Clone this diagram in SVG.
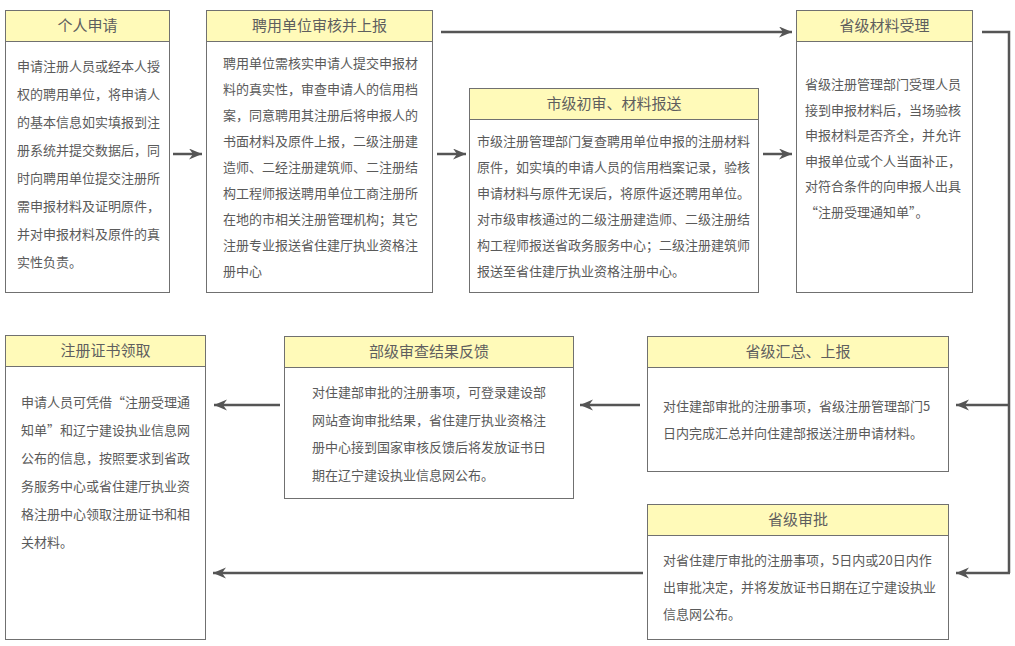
<svg xmlns="http://www.w3.org/2000/svg" width="1015" height="646" viewBox="0 0 1015 646">
<style>
.box{fill:#ffffff;stroke:#707070;stroke-width:1}
.hd{fill:#fffab9;stroke:#707070;stroke-width:1}
.ht{font-family:"Noto Sans CJK SC","Noto Sans CJK JP",sans-serif;font-size:15px;fill:#5e5e5e;text-anchor:middle}
.bt{font-family:"Noto Sans CJK SC","Noto Sans CJK JP",sans-serif;font-size:13px;fill:#5a5a5a}
.ln{fill:none;stroke:#555555;stroke-width:2.5}
</style>
<defs>
<marker id="ah" markerUnits="userSpaceOnUse" markerWidth="14" markerHeight="12" refX="13" refY="5.5" orient="auto">
<path d="M0,0 L13,5.5 L0,11 L4,5.5 z" fill="#555555"/>
</marker>
</defs>
<rect width="1015" height="646" fill="#ffffff"/>

<g id="connectors">
<line class="ln" x1="173" y1="154" x2="202" y2="154" marker-end="url(#ah)"/>
<line class="ln" x1="437" y1="154" x2="466" y2="154" marker-end="url(#ah)"/>
<line class="ln" x1="763" y1="154" x2="792" y2="154" marker-end="url(#ah)"/>
<line class="ln" x1="441" y1="32" x2="792" y2="32" marker-end="url(#ah)"/>
<polyline class="ln" points="982,32 1009,32 1009,573"/>
<line class="ln" x1="1010" y1="405" x2="956" y2="405" marker-end="url(#ah)"/>
<line class="ln" x1="1010" y1="573" x2="956" y2="573" marker-end="url(#ah)"/>
<line class="ln" x1="640" y1="405" x2="580" y2="405" marker-end="url(#ah)"/>
<line class="ln" x1="280" y1="405" x2="214" y2="405" marker-end="url(#ah)"/>
<line class="ln" x1="643" y1="573" x2="213" y2="573" marker-end="url(#ah)"/>
</g>

<g id="n1">
<rect class="box" x="5.5" y="10.5" width="164" height="282"/>
<rect class="hd" x="5.5" y="10.5" width="164" height="31"/>
<text class="ht" x="87.5" y="31">个人申请</text>
<text class="bt" x="17"><tspan x="17" y="71">申请注册人员或经本人授</tspan><tspan x="17" y="99">权的聘用单位，将申请人</tspan><tspan x="17" y="127">的基本信息如实填报到注</tspan><tspan x="17" y="155">册系统并提交数据后，同</tspan><tspan x="17" y="183">时向聘用单位提交注册所</tspan><tspan x="17" y="211">需申报材料及证明原件，</tspan><tspan x="17" y="239">并对申报材料及原件的真</tspan><tspan x="17" y="267">实性负责。</tspan></text>
</g>

<g id="n2">
<rect class="box" x="206.5" y="10.5" width="226" height="282"/>
<rect class="hd" x="206.5" y="10.5" width="226" height="31"/>
<text class="ht" x="319.5" y="31">聘用单位审核并上报</text>
<text class="bt"><tspan x="223" y="68">聘用单位需核实申请人提交申报材</tspan><tspan x="223" y="94">料的真实性，审查申请人的信用档</tspan><tspan x="223" y="120">案，同意聘用其注册后将申报人的</tspan><tspan x="223" y="146">书面材料及原件上报，二级注册建</tspan><tspan x="223" y="172">造师、二经注册建筑师、二注册结</tspan><tspan x="223" y="198">构工程师报送聘用单位工商注册所</tspan><tspan x="223" y="224">在地的市相关注册管理机构；其它</tspan><tspan x="223" y="250">注册专业报送省住建厅执业资格注</tspan><tspan x="223" y="276">册中心</tspan></text>
</g>

<g id="n3">
<rect class="box" x="469.5" y="88.5" width="289" height="204"/>
<rect class="hd" x="469.5" y="88.5" width="289" height="31"/>
<text class="ht" x="614" y="109">市级初审、材料报送</text>
<text class="bt"><tspan x="477" y="146">市级注册管理部门复查聘用单位申报的注册材料</tspan><tspan x="477" y="172">原件，如实填的申请人员的信用档案记录，验核</tspan><tspan x="477" y="198">申请材料与原件无误后，将原件返还聘用单位。</tspan><tspan x="477" y="224">对市级审核通过的二级注册建造师、二级注册结</tspan><tspan x="477" y="250">构工程师报送省政务服务中心；二级注册建筑师</tspan><tspan x="477" y="276">报送至省住建厅执业资格注册中心。</tspan></text>
</g>

<g id="n4">
<rect class="box" x="796.5" y="10.5" width="176" height="282"/>
<rect class="hd" x="796.5" y="10.5" width="176" height="31"/>
<text class="ht" x="884.5" y="31">省级材料受理</text>
<text class="bt"><tspan x="805" y="89">省级注册管理部门受理人员</tspan><tspan x="805" y="115">接到申报材料后，当场验核</tspan><tspan x="805" y="140">申报材料是否齐全，并允许</tspan><tspan x="805" y="166">申报单位或个人当面补正，</tspan><tspan x="805" y="191">对符合条件的向申报人出具</tspan><tspan x="805" y="217">“注册受理通知单”。</tspan></text>
</g>

<g id="n5">
<rect class="box" x="5.5" y="335.5" width="200" height="304"/>
<rect class="hd" x="5.5" y="335.5" width="200" height="31"/>
<text class="ht" x="105.5" y="356">注册证书领取</text>
<text class="bt"><tspan x="21" y="407">申请人员可凭借“注册受理通</tspan><tspan x="21" y="435">知单”和辽宁建设执业信息网</tspan><tspan x="21" y="463">公布的信息，按照要求到省政</tspan><tspan x="21" y="491">务服务中心或省住建厅执业资</tspan><tspan x="21" y="519">格注册中心领取注册证书和相</tspan><tspan x="21" y="547">关材料。</tspan></text>
</g>

<g id="n6">
<rect class="box" x="284.5" y="336.5" width="289" height="162"/>
<rect class="hd" x="284.5" y="336.5" width="289" height="31"/>
<text class="ht" x="429" y="357">部级审查结果反馈</text>
<text class="bt"><tspan x="312" y="397">对住建部审批的注册事项，可登录建设部</tspan><tspan x="312" y="425">网站查询审批结果，省住建厅执业资格注</tspan><tspan x="312" y="452">册中心接到国家审核反馈后将发放证书日</tspan><tspan x="312" y="480">期在辽宁建设执业信息网公布。</tspan></text>
</g>

<g id="n7">
<rect class="box" x="647.5" y="336.5" width="301" height="135"/>
<rect class="hd" x="647.5" y="336.5" width="301" height="31"/>
<text class="ht" x="798" y="357">省级汇总、上报</text>
<text class="bt"><tspan x="663" y="411">对住建部审批的注册事项，省级注册管理部门5</tspan><tspan x="663" y="438">日内完成汇总并向住建部报送注册申请材料。</tspan></text>
</g>

<g id="n8">
<rect class="box" x="647.5" y="504.5" width="301" height="135"/>
<rect class="hd" x="647.5" y="504.5" width="301" height="31"/>
<text class="ht" x="798" y="525">省级审批</text>
<text class="bt"><tspan x="663" y="565">对省住建厅审批的注册事项，5日内或20日内作</tspan><tspan x="663" y="592">出审批决定，并将发放证书日期在辽宁建设执业</tspan><tspan x="663" y="619">信息网公布。</tspan></text>
</g>
</svg>
